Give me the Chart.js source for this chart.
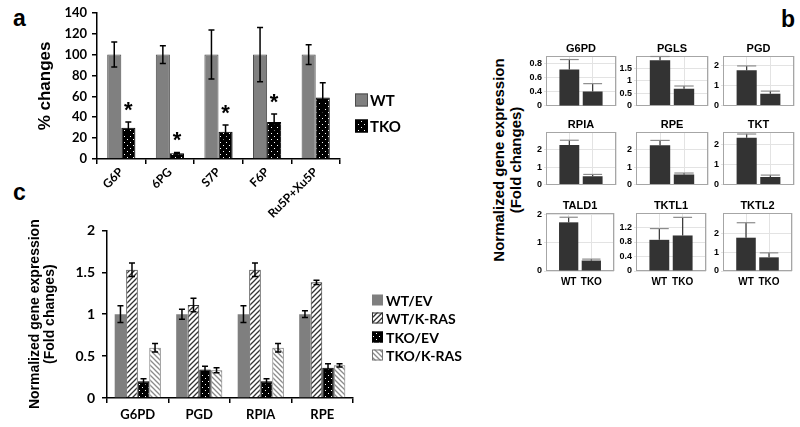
<!DOCTYPE html>
<html lang="en">
<head>
<meta charset="UTF-8">
<title>Pentose phosphate pathway figure</title>
<script src="https://cdn.jsdelivr.net/npm/chart.js"></script>
<style>
    body { margin: 0; background: #fff; }
    #fig { position: relative; width: 800px; height: 427px; overflow: hidden; background: #fff; }
    #fig canvas { position: absolute; }
    .lab { position: absolute; font: bold 23px "Liberation Sans", Arial, sans-serif; line-height: 1; }
    .btitle {
        position: absolute; width: 230px; height: 34px; left: 392px; top: 143px;
        transform: rotate(-90deg); text-align: center; white-space: nowrap;
        font: bold 15px "Liberation Sans", Arial, sans-serif; line-height: 17px;
    }
</style>
</head>
<body>
<div id="fig">
    <div class="lab" style="left:13px; top:7px;">a</div>
    <div class="lab" style="left:781px; top:8px;">b</div>
    <div class="lab" style="left:13px; top:181px;">c</div>
    <div class="btitle">Normalized gene expression<br>(Fold changes)</div>

    <canvas id="chartA" width="420" height="222" style="left:0; top:0;"></canvas>
    <canvas id="chartC" width="490" height="212" style="left:0; top:215px;"></canvas>
</div>

<script>
// ---- panel a: metabolite levels (% of WT)
const aCats = ['G6P', '6PG', 'S7P', 'F6P', 'Ru5P+Xu5P'];
const aWT = [100, 100, 100, 100, 100];
const aWTErr = [12, 8.5, 23.5, 26, 9.5];
const aTKO = [30, 5.5, 26, 35.5, 59];
const aTKOErr = [5.5, 0.8, 6.5, 7.5, 14];
const aStar = [true, true, true, true, false];

// ---- panel b: small multiples, WT vs TKO
const miniGenes = ['G6PD', 'PGLS', 'PGD', 'RPIA', 'RPE', 'TKT', 'TALD1', 'TKTL1', 'TKTL2'];
const miniLabels = ['', 'WT', 'TKO', ''];
const miniWT = [0.71, 1.83, 1.78, 2.26, 2.25, 2.32, 1.72, 0.86, 1.78];
const miniWTErr = [0.14, 0.15, 0.22, 0.27, 0.27, 0.18, 0.18, 0.31, 0.80];
const miniTKO = [0.40, 0.68, 0.60, 0.47, 0.58, 0.37, 0.37, 0.98, 0.73];
const miniTKOErr = [0.11, 0.11, 0.13, 0.11, 0.08, 0.10, 0.05, 0.50, 0.24];
const miniMin = [0.2, 0, 0, 0, 0, 0, 0, 0, 0];
const miniMax = [0.9, 2.0, 2.5, 3.0, 3.0, 2.6, 2.05, 1.6, 3.1];
const miniTicks = [
    [0.2, 0.4, 0.6, 0.8], [0, 0.5, 1, 1.5], [0, 1, 2],
    [0, 1, 2], [0, 1, 2], [0, 1, 2],
    [0, 1, 2], [0, 0.4, 0.8, 1.2], [0, 1, 2]
];
const miniTickLabels = [
    ['0', '0.4', '0.6', '0.8'], ['0', '0.5', '1', '1.5'], ['0', '1', '2'],
    ['0', '1', '2'], ['0', '1', '2'], ['0', '1', '2'],
    ['0', '1', '2'], ['0', '0.4', '0.8', '1.2'], ['0', '1', '2']
];

// ---- panel c: K-RAS overexpression
const cCats = ['G6PD', 'PGD', 'RPIA', 'RPE'];
const cSeries = ['WT/EV', 'WT/K-RAS', 'TKO/EV', 'TKO/K-RAS'];
const cWTEV = [1, 1, 1, 1];
const cWTEVErr = [0.1, 0.06, 0.1, 0.04];
const cWTKRAS = [1.53, 1.11, 1.53, 1.38];
const cWTKRASErr = [0.08, 0.08, 0.08, 0.025];
const cTKOEV = [0.2, 0.34, 0.2, 0.36];
const cTKOEVErr = [0.03, 0.04, 0.03, 0.05];
const cTKOKRAS = [0.6, 0.33, 0.6, 0.39];
const cTKOKRASErr = [0.05, 0.03, 0.05, 0.02];

Chart.defaults.font.family = '"Liberation Sans", Arial, sans-serif';
Chart.defaults.color = '#000';

// fill patterns
function dots(bg, fg) {
    const c = document.createElement('canvas');
    c.width = c.height = 6;
    const g = c.getContext('2d');
    g.fillStyle = bg; g.fillRect(0, 0, 6, 6);
    g.fillStyle = fg; g.fillRect(1, 1, 1, 1); g.fillRect(4, 4, 1, 1);
    return g.createPattern(c, 'repeat');
}
function hatch(bg, fg, dir, size, lw) {
    const c = document.createElement('canvas');
    c.width = c.height = size;
    const g = c.getContext('2d');
    g.fillStyle = bg; g.fillRect(0, 0, size, size);
    g.strokeStyle = fg; g.lineWidth = lw;
    g.beginPath();
    if (dir > 0) {
        g.moveTo(0, size); g.lineTo(size, 0);
        g.moveTo(-size, size); g.lineTo(size, -size);
        g.moveTo(0, 2 * size); g.lineTo(2 * size, 0);
    } else {
        g.moveTo(0, 0); g.lineTo(size, size);
        g.moveTo(-size, 0); g.lineTo(size, 2 * size);
        g.moveTo(0, -size); g.lineTo(2 * size, size);
    }
    g.stroke();
    return g.createPattern(c, 'repeat');
}
const dotFill = dots('#000', '#fff');

// error bars from the named arrays, placed through the y scale
const errorBars = {
    id: 'errorBars',
    afterDatasetsDraw(chart, args, o) {
        const ctx = chart.ctx, y = chart.scales.y;
        ctx.save();
        ctx.lineWidth = o.lineWidth;
        chart.data.datasets.forEach((ds, di) => {
            const errs = o.errors[di];
            chart.getDatasetMeta(di).data.forEach((bar, i) => {
                const v = ds.data[i];
                if (v == null) return;
                const top = y.getPixelForValue(v + errs[i]);
                const bot = o.upOnly ? y.getPixelForValue(v) : y.getPixelForValue(v - errs[i]);
                const half = o.capWidth ? o.capWidth / 2 : bar.width * o.capRatio / 2;
                ctx.strokeStyle = o.color;
                ctx.beginPath(); ctx.moveTo(bar.x, top); ctx.lineTo(bar.x, bot); ctx.stroke();
                ctx.strokeStyle = o.capColor || o.color;
                ctx.beginPath();
                ctx.moveTo(bar.x - half, top); ctx.lineTo(bar.x + half, top);
                if (!o.upOnly) { ctx.moveTo(bar.x - half, bot); ctx.lineTo(bar.x + half, bot); }
                ctx.stroke();
            });
        });
        ctx.restore();
    }
};

// significance stars over TKO bars (panel a)
const stars = {
    id: 'stars',
    afterDatasetsDraw(chart, args, o) {
        const ctx = chart.ctx, y = chart.scales.y;
        const meta = chart.getDatasetMeta(1);
        ctx.save();
        ctx.font = o.font; ctx.fillStyle = '#000';
        ctx.textAlign = 'center'; ctx.textBaseline = 'alphabetic';
        meta.data.forEach((bar, i) => {
            if (!aStar[i]) return;
            ctx.fillText('*', bar.x, y.getPixelForValue(aTKO[i] + aTKOErr[i]) - o.gap);
        });
        ctx.restore();
    }
};

// legend at the right of a plot
const sideLegend = {
    id: 'sideLegend',
    afterDraw(chart, args, o) {
        const ctx = chart.ctx;
        ctx.save();
        ctx.font = o.font; ctx.textBaseline = 'middle';
        chart.data.datasets.forEach((ds, i) => {
            const yy = o.y[i];
            ctx.fillStyle = ds.backgroundColor;
            ctx.fillRect(o.x, yy - o.box / 2, o.box, o.box);
            if (ds.borderWidth) {
                ctx.strokeStyle = ds.borderColor; ctx.lineWidth = 1;
                ctx.strokeRect(o.x + 0.5, yy - o.box / 2 + 0.5, o.box - 1, o.box - 1);
            }
            ctx.fillStyle = '#000';
            ctx.fillText(ds.label, o.x + o.box + o.gap, yy + 1);
        });
        ctx.restore();
    }
};

// light frame round small plots, title centred over the frame
const boxFrame = {
    id: 'boxFrame',
    beforeDatasetsDraw(chart, args, o) {
        const {left, top, right, bottom} = chart.chartArea;
        const ctx = chart.ctx;
        ctx.save();
        ctx.strokeStyle = o.color; ctx.lineWidth = 1;
        ctx.strokeRect(Math.round(left) + 0.5, Math.round(top) + 0.5, Math.round(right - left) - 1, Math.round(bottom - top) - 1);
        ctx.font = o.font; ctx.fillStyle = '#000';
        ctx.textAlign = 'center'; ctx.textBaseline = 'alphabetic';
        ctx.fillText(o.title, (left + right) / 2, top - o.titleGap);
        ctx.restore();
    }
};

const boldLato = (size) => ({family: 'Lato', weight: 'bold', size: size});

// ---------- panel a
new Chart(document.getElementById('chartA'), {
    type: 'bar',
    data: {
        labels: aCats,
        datasets: [
            {label: 'WT', data: aWT, backgroundColor: '#808080', borderColor: '#4d4d4d', borderWidth: 1},
            {label: 'TKO', data: aTKO, backgroundColor: dotFill, borderColor: '#000', borderWidth: 1}
        ]
    },
    options: {
        responsive: false, animation: false, devicePixelRatio: 1,
        layout: {padding: {top: 9, right: 80, left: 0, bottom: 0}},
        datasets: {bar: {barPercentage: 1, categoryPercentage: 0.58}},
        plugins: {
            legend: {display: false}, tooltip: {enabled: false},
            errorBars: {errors: [aWTErr, aTKOErr], color: '#000', lineWidth: 1.5, capWidth: 6},
            stars: {font: 'bold 22px "Liberation Sans", Arial', gap: 5},
            sideLegend: {x: 355, y: [100, 126], box: 13, gap: 2, font: 'bold 15px Lato'}
        },
        scales: {
            x: {
                grid: {drawOnChartArea: false, offset: true, tickLength: 5, color: '#000', lineWidth: 1.5},
                border: {color: '#000', width: 1.5},
                ticks: {font: boldLato(12), minRotation: 45, maxRotation: 45, autoSkip: false, padding: 1},
                afterFit(s) { s.height = 63; }
            },
            y: {
                min: 0, max: 140,
                ticks: {stepSize: 20, font: boldLato(13), padding: 5},
                grid: {drawOnChartArea: false, tickLength: 5, color: '#000', lineWidth: 1.5},
                border: {color: '#000', width: 1.5},
                title: {display: true, text: '% changes', font: {size: 17, weight: 'bold', lineHeight: 1}, padding: {top: 37, bottom: 0}},
                afterFit(s) { s.width = 97; }
            }
        }
    },
    plugins: [errorBars, stars, sideLegend]
});

// ---------- panel c
new Chart(document.getElementById('chartC'), {
    type: 'bar',
    data: {
        labels: cCats,
        datasets: [
            {label: cSeries[0], data: cWTEV, backgroundColor: '#7f7f7f', borderWidth: 0},
            {label: cSeries[1], data: cWTKRAS, backgroundColor: hatch('#fff', '#333', 1, 5, 1.3), borderColor: '#333', borderWidth: 1},
            {label: cSeries[2], data: cTKOEV, backgroundColor: dotFill, borderColor: '#000', borderWidth: 1},
            {label: cSeries[3], data: cTKOKRAS, backgroundColor: hatch('#fff', '#8a8a8a', -1, 5, 1.3), borderColor: '#777', borderWidth: 1}
        ]
    },
    options: {
        responsive: false, animation: false, devicePixelRatio: 1,
        layout: {padding: {top: 13, right: 137, left: 0, bottom: 0}},
        datasets: {bar: {barPercentage: 1, categoryPercentage: 0.75}},
        plugins: {
            legend: {display: false}, tooltip: {enabled: false},
            errorBars: {errors: [cWTEVErr, cWTKRASErr, cTKOEVErr, cTKOKRASErr], color: '#000', lineWidth: 1.5, capWidth: 6},
            sideLegend: {x: 372, y: [85, 103, 122, 140], box: 11, gap: 3, font: 'bold 14px Lato'}
        },
        scales: {
            x: {
                grid: {drawOnChartArea: false, offset: true, tickLength: 5, color: '#000', lineWidth: 1.5},
                border: {color: '#000', width: 1.5},
                ticks: {font: boldLato(13), padding: 4},
                afterFit(s) { s.height = 29; }
            },
            y: {
                min: 0, max: 2,
                ticks: {stepSize: 0.5, font: boldLato(14), padding: 7, callback: (v) => String(v)},
                grid: {drawOnChartArea: false, tickLength: 5, color: '#000', lineWidth: 1.5},
                border: {color: '#000', width: 1.5},
                title: {display: true, text: ['Normalized gene expression', '(Fold changes)'], font: {size: 14, weight: 'bold', lineHeight: 1.05}, padding: {top: 28, bottom: 0}},
                afterFit(s) { s.width = 107; }
            }
        }
    },
    plugins: [errorBars, sideLegend]
});

// ---------- panel b: 3 x 3 small plots
const cols = [[546, 616], [636, 708], [723, 794]];
const rows = [[56, 111], [132, 190], [213, 271]];
const fig = document.getElementById('fig');

miniGenes.forEach((gene, i) => {
    const [l, r] = cols[i % 3];
    const [t, b] = rows[Math.floor(i / 3)];
    const showX = Math.floor(i / 3) === 2;
    const xh = showX ? 18 : 2;
    const cv = document.createElement('canvas');
    cv.width = r - l + 33;
    cv.height = b - t + 22 + xh;
    cv.style.left = (l - 30) + 'px';
    cv.style.top = (t - 22) + 'px';
    fig.appendChild(cv);

    new Chart(cv, {
        type: 'bar',
        data: {
            labels: miniLabels,
            datasets: [{data: [null, miniWT[i], miniTKO[i], null], backgroundColor: '#333'}]
        },
        options: {
            responsive: false, animation: false, devicePixelRatio: 1,
            layout: {padding: {top: 22, right: 3, left: 0, bottom: 0}},
            datasets: {bar: {barPercentage: 1, categoryPercentage: 0.85}},
            plugins: {
                legend: {display: false}, tooltip: {enabled: false},
                errorBars: {errors: [[null, miniWTErr[i], miniTKOErr[i], null]], upOnly: true, color: '#333', capColor: '#8c8c8c', lineWidth: 1.2, capRatio: 0.95},
                boxFrame: {color: '#a6a6a6', title: gene, titleGap: 4, font: 'bold 11px "Liberation Sans", Arial'}
            },
            scales: {
                x: {
                    offset: false,
                    grid: {offset: false, color: '#e3e3e3', drawTicks: false},
                    border: {display: false},
                    ticks: {display: showX, font: {size: 10, weight: 'bold'}, padding: 5, autoSkip: false, maxRotation: 0},
                    afterFit(s) { s.height = xh; }
                },
                y: {
                    min: miniMin[i], max: miniMax[i],
                    afterBuildTicks(s) { s.ticks = miniTicks[i].map(v => ({value: v})); },
                    ticks: {font: {size: 9, weight: 'bold'}, padding: 2, callback: (v, idx) => miniTickLabels[i][idx]},
                    grid: {color: '#e3e3e3', tickLength: 2},
                    border: {display: false},
                    afterFit(s) { s.width = 30; }
                }
            }
        },
        plugins: [boxFrame, errorBars]
    });
});
</script>
</body>
</html>
